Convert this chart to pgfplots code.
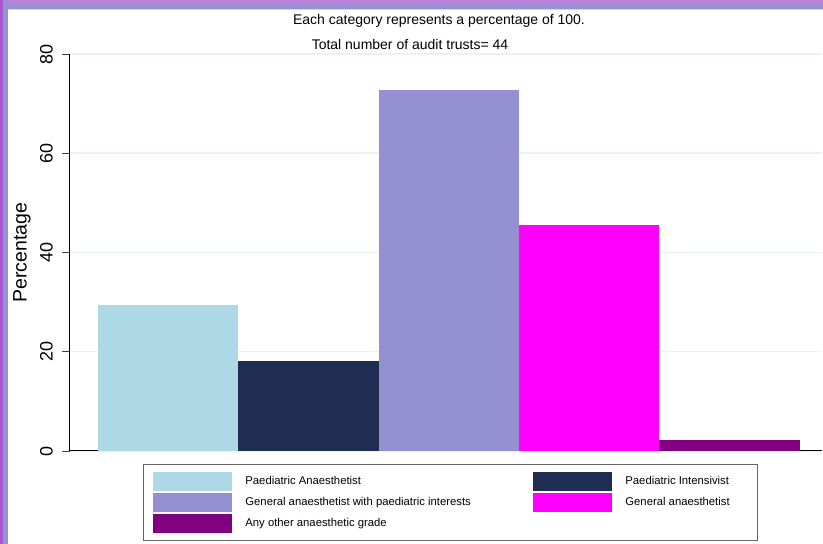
\documentclass[border=0pt]{standalone}
\usepackage{pgfplots}
\pgfplotsset{compat=1.18}
\usepackage{fontspec}
\setmainfont{Liberation Sans}
\definecolor{cA}{HTML}{ADD8E6}
\definecolor{cB}{HTML}{1F2D53}
\definecolor{cC}{HTML}{9590D2}
\definecolor{cD}{HTML}{FF00FF}
\definecolor{cE}{HTML}{800080}
\definecolor{gridc}{HTML}{EAF2F3}
\definecolor{bordA}{HTML}{9790D6}
\definecolor{bordB}{HTML}{BB82D8}
\definecolor{bordC}{HTML}{A458CD}
\begin{document}
\begin{tikzpicture}
\useasboundingbox (0,0) rectangle (823pt,544pt);
\clip (0,0) rectangle (823pt,544pt);
\fill[white] (0,0) rectangle (823pt,544pt);
\begin{axis}[
  at={(70pt,93pt)}, anchor=south west,
  scale only axis, width=752pt, height=397pt,
  xmin=0.3, xmax=5.66, ymin=0, ymax=80,
  axis x line*=bottom, axis y line*=left,
  xtick=\empty, ytick={0,20,40,60,80},
  /pgf/number format/assume math mode=true,
  ymajorgrids, grid style={color=gridc, line width=1.5pt},
  tick align=outside, major tick length=8pt,
  tick style={black!75, line width=0.8pt},
  axis line style={black, line width=1pt},
  yticklabel style={rotate=90, anchor=south, inner sep=0pt, font=\fontsize{18}{18}\selectfont},
  yticklabel shift=9pt,
  ylabel={Percentage},
  ylabel style={at={(axis description cs:-0.0638,0.5)}, anchor=center, font=\fontsize{19.5}{19.5}\selectfont},
  legend columns=2,
  legend cell align=left,
  legend style={at={(axis description cs:0.0971,-0.0327)}, anchor=north west,
    draw=black!60, line width=0.8pt, inner xsep=10pt, inner ysep=7.5pt,
    font=\fontsize{11.3}{11.3}\selectfont,
    nodes={inner sep=0pt, anchor=west},
    row sep=2pt, column sep=0pt,
    /tikz/column 1/.style={column sep=13pt},
    /tikz/column 3/.style={column sep=13pt}},
]
\addplot[ybar, bar width=1, bar shift=0pt, fill=cA, draw=none,
  legend image code/.code={\fill[cA] (0pt,-9.5pt) rectangle (79pt,9.5pt);}]
  coordinates {(1,29.5)};
\addlegendentry{\makebox[288pt][l]{Paediatric Anaesthetist}}
\addplot[ybar, bar width=1, bar shift=0pt, fill=cB, draw=none,
  legend image code/.code={\fill[cB] (0pt,-9.5pt) rectangle (79pt,9.5pt);}]
  coordinates {(2,18.2)};
\addlegendentry{\makebox[122pt][l]{Paediatric Intensivist}}
\addplot[ybar, bar width=1, bar shift=0pt, fill=cC, draw=none,
  legend image code/.code={\fill[cC] (0pt,-9.5pt) rectangle (79pt,9.5pt);}]
  coordinates {(3,72.7)};
\addlegendentry{\makebox[288pt][l]{General anaesthetist with paediatric interests}}
\addplot[ybar, bar width=1, bar shift=0pt, fill=cD, draw=none,
  legend image code/.code={\fill[cD] (0pt,-9.5pt) rectangle (79pt,9.5pt);}]
  coordinates {(4,45.5)};
\addlegendentry{\makebox[122pt][l]{General anaesthetist}}
\addplot[ybar, bar width=1, bar shift=0pt, fill=cE, draw=none,
  legend image code/.code={\fill[cE] (0pt,-9.5pt) rectangle (79pt,9.5pt);}]
  coordinates {(5,2.3)};
\addlegendentry{\makebox[288pt][l]{Any other anaesthetic grade}}
\end{axis}
\node[font=\fontsize{14}{14}\selectfont] at (439pt,523pt) {Each category represents a percentage of 100.};
\node[font=\fontsize{14}{14}\selectfont] at (410pt,499pt) {Total number of audit trusts= 44};
% frame
\fill[bordA] (0,535pt) rectangle (823pt,544pt);
\fill[bordB] (0,541pt) rectangle (823pt,544pt);
\fill[bordA!40!white] (8pt,534.5pt) rectangle (823pt,535.3pt);
\fill[bordA] (0,0) rectangle (8pt,544pt);
\fill[bordC] (0,0) rectangle (2.7pt,544pt);
\end{tikzpicture}
\end{document}
